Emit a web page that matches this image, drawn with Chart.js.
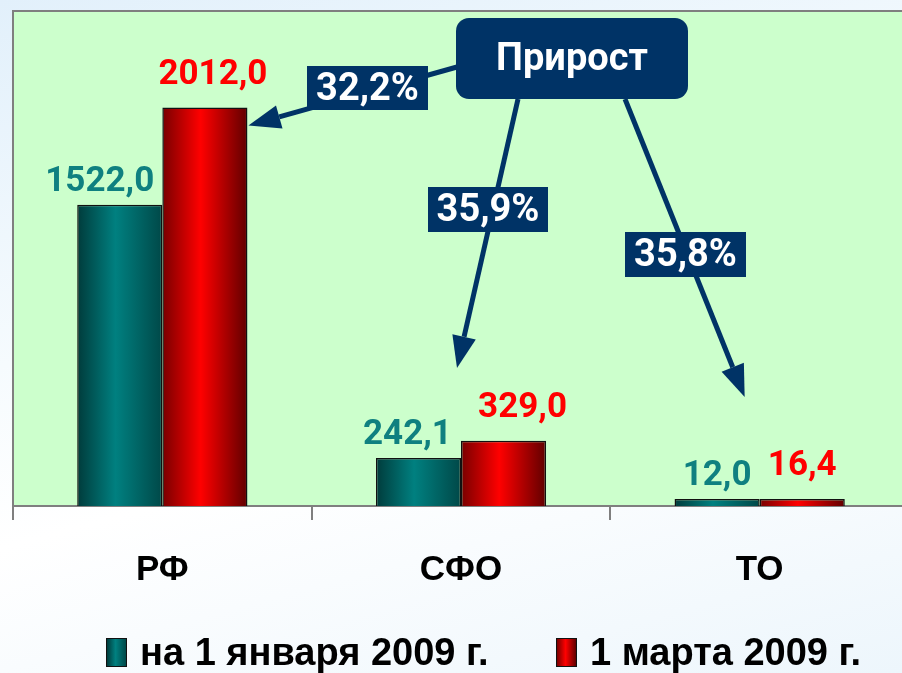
<!DOCTYPE html>
<html>
<head>
<meta charset="utf-8">
<script src="https://cdn.jsdelivr.net/npm/chart.js@4.4.0/dist/chart.umd.min.js"></script>
<style>
  html, body { margin: 0; padding: 0; width: 902px; height: 673px; overflow: hidden; }
  body {
    background: linear-gradient(165deg, #e2f0fb 0%, #f6fbfe 40%, #ffffff 60%, #edf6fc 100%);
    font-family: Roboto, "Liberation Sans", sans-serif;
  }
  #wrap { position: absolute; left: 0; top: 0; width: 910px; height: 673px; }
  .leg { position: absolute; top: 634px; display: flex; align-items: center; height: 36px;
         font: bold 38px "Liberation Sans", Arial, sans-serif; color: #000; white-space: nowrap; }
  .leg i { display: inline-block; width: 19px; height: 27px; border: 1px solid #111; margin-right: 13px; }
</style>
</head>
<body>
<div id="wrap"><canvas id="growthChart"></canvas></div>
<div id="legend"></div>
<script>
// Данные
const categories = ['РФ', 'СФО', 'ТО'];
const seriesNames = ['на 1 января 2009 г.', '1 марта 2009 г.'];
const jan2009 = [1522.0, 242.1, 12.0];
const mar2009 = [2012.0, 329.0, 16.4];
const growth = ['32,2%', '35,9%', '35,8%'];
const growthTitle = 'Прирост';

const NAVY = '#003366';
const CAT_PCT = 0.57;
const fmt = v => v.toFixed(1).replace('.', ',');

// horizontal "cylinder" gradient for each bar
function barFill(c0, c1, c2) {
  return (c) => {
    const chart = c.chart;
    const x = chart.scales && chart.scales.x;
    if (!x || c.dataIndex === undefined || !chart.chartArea) return c1;
    const center = x.getPixelForValue(c.dataIndex);
    const w = (x.right - x.left) / categories.length * CAT_PCT / 2;
    const x0 = c.datasetIndex === 0 ? center - w : center;
    const g = chart.ctx.createLinearGradient(x0, 0, x0 + w, 0);
    g.addColorStop(0, c0);
    g.addColorStop(0.45, c1);
    g.addColorStop(1, c2);
    return g;
  };
}

const plotBg = {
  id: 'plotBg',
  beforeDraw(chart) {
    const { ctx, chartArea: a } = chart;
    ctx.save();
    ctx.fillStyle = '#ccffcc';
    ctx.fillRect(a.left, a.top, a.right - a.left, a.bottom - a.top);
    ctx.strokeStyle = '#7f7f7f';
    ctx.lineWidth = 2;
    ctx.beginPath();
    ctx.moveTo(a.left, a.bottom);
    ctx.lineTo(a.left, a.top);
    ctx.lineTo(a.right, a.top);
    ctx.lineTo(a.right, a.bottom);
    ctx.stroke();
    ctx.restore();
  }
};

// value labels above bars
const labelShift = [[-20, -11, 0], [8, 19, 0]];
const labelGap = [14, 24];
const labelColor = ['#0f8080', '#ff0000'];
const valueLabels = {
  id: 'valueLabels',
  afterDatasetsDraw(chart) {
    const ctx = chart.ctx;
    ctx.save();
    ctx.font = 'bold 35px Roboto, "Liberation Sans", sans-serif';
    ctx.textAlign = 'center';
    ctx.textBaseline = 'alphabetic';
    chart.data.datasets.forEach((ds, di) => {
      ctx.fillStyle = labelColor[di];
      chart.getDatasetMeta(di).data.forEach((bar, i) => {
        ctx.fillText(fmt(ds.data[i]), bar.x + labelShift[di][i], bar.y - labelGap[di]);
      });
    });
    ctx.restore();
  }
};

// "Прирост" callout with arrows
function arrow(ctx, x1, y1, x2, y2) {
  const ang = Math.atan2(y2 - y1, x2 - x1);
  const len = 32, half = 12;
  const bx = x2 - len * Math.cos(ang), by = y2 - len * Math.sin(ang);
  ctx.beginPath();
  ctx.moveTo(x1, y1);
  ctx.lineTo(bx, by);
  ctx.stroke();
  ctx.beginPath();
  ctx.moveTo(x2, y2);
  ctx.lineTo(bx + half * Math.sin(ang), by - half * Math.cos(ang));
  ctx.lineTo(bx - half * Math.sin(ang), by + half * Math.cos(ang));
  ctx.closePath();
  ctx.fill();
}
function tag(ctx, text, x, y, w, h) {
  ctx.fillStyle = NAVY;
  ctx.fillRect(x, y, w, h);
  ctx.fillStyle = '#fff';
  ctx.fillText(text, x + w / 2, y + h / 2 + 2);
}

const callout = {
  id: 'callout',
  afterDraw(chart) {
    const { ctx, chartArea: a } = chart;
    const red = chart.getDatasetMeta(1).data;
    const xs = chart.scales.x;
    const ox = a.left, oy = a.top;
    ctx.save();
    ctx.strokeStyle = NAVY;
    ctx.fillStyle = NAVY;
    ctx.lineWidth = 5;
    arrow(ctx, ox + 444, oy + 56, red[0].x + red[0].width / 2 + 1, red[0].y + 18);
    arrow(ctx, ox + 505, oy + 88, xs.getPixelForValue(1) - 4, oy + 357);
    arrow(ctx, ox + 612, oy + 88, xs.getPixelForValue(2) - 15, oy + 386);

    ctx.font = 'bold 38px Roboto, "Liberation Sans", sans-serif';
    ctx.textAlign = 'center';
    ctx.textBaseline = 'middle';
    tag(ctx, growth[0], ox + 294, oy + 55, 121, 44);
    tag(ctx, growth[1], ox + 415, oy + 176, 120, 45);
    tag(ctx, growth[2], ox + 612, oy + 221, 121, 45);

    ctx.fillStyle = NAVY;
    ctx.beginPath();
    ctx.roundRect(ox + 443, oy + 7, 232, 81, 13);
    ctx.fill();
    ctx.fillStyle = '#fff';
    ctx.fillText(growthTitle, ox + 443 + 116, oy + 7 + 42);
    ctx.restore();
  }
};

const ctx = document.getElementById('growthChart');
const chart = new Chart(ctx, {
  type: 'bar',
  data: {
    labels: categories,
    datasets: [{
      label: seriesNames[0],
      data: jan2009,
      backgroundColor: barFill('#003b3b', '#008080', '#004848'),
      borderColor: '#111',
      borderWidth: 1.5
    }, {
      label: seriesNames[1],
      data: mar2009,
      backgroundColor: barFill('#780000', '#ff0000', '#600000'),
      borderColor: '#111',
      borderWidth: 1.5
    }]
  },
  options: {
    responsive: true,
    maintainAspectRatio: false,
    animation: false,
    datasets: {
      bar: { barPercentage: 1, categoryPercentage: CAT_PCT, minBarLength: 7 }
    },
    layout: { padding: { left: 13, top: 11, right: 1, bottom: 53 } },
    plugins: {
      legend: { display: false },
      tooltip: { enabled: false }
    },
    scales: {
      x: {
        grid: { drawOnChartArea: false, tickLength: 14, color: '#7f7f7f', lineWidth: 2, offset: true },
        border: { color: '#7f7f7f', width: 2 },
        ticks: {
          color: '#000',
          padding: 29,
          font: { family: '"Liberation Sans", Arial, sans-serif', size: 35, weight: 'bold' }
        }
      },
      y: { display: false, min: 0, max: 2500 }
    }
  },
  plugins: [plotBg, valueLabels, callout]
});

// Legend
const legendBox = [
  'linear-gradient(90deg,#003b3b,#008080 45%,#004848)',
  'linear-gradient(90deg,#780000,#ff0000 45%,#600000)'
];
const legendLeft = [106, 556];
const legendEl = document.getElementById('legend');
legendEl.innerHTML = chart.data.datasets.map((ds, i) =>
  `<div class="leg" style="left:${legendLeft[i]}px"><i style="background:${legendBox[i]}"></i>${ds.label}</div>`
).join('');
</script>
</body>
</html>
